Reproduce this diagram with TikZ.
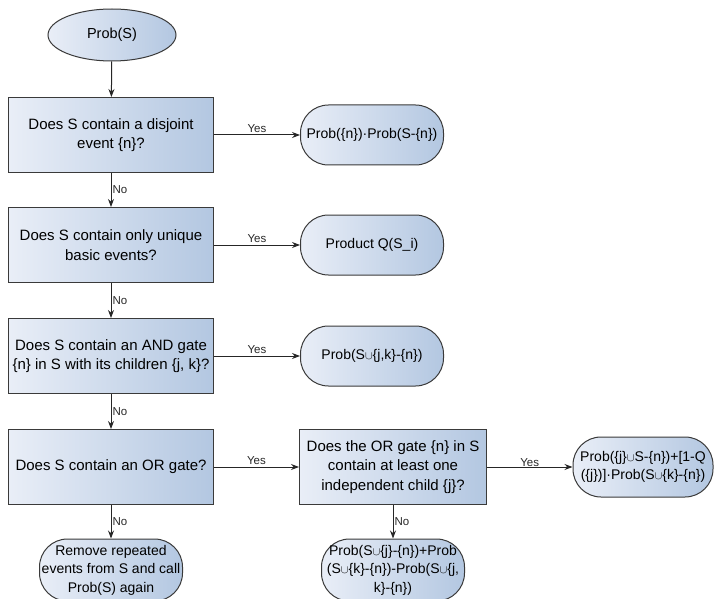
\documentclass[tikz,border=0pt]{standalone}
\usepackage{fontspec}
\setmainfont{Liberation Sans}
\usetikzlibrary{shapes.geometric}
\usetikzlibrary{arrows.meta}
\definecolor{azulclaro}{HTML}{E9EEF7}
\definecolor{azulescuro}{HTML}{B3C7E1}
\definecolor{contorno}{HTML}{3A3A3A}
\tikzset{pergunta/.style={rectangle,draw=contorno,line width=1pt,
                          left color=azulclaro,right color=azulescuro,
                          minimum width=205pt,minimum height=75pt,align=center,
                          font=\fontsize{15}{19.5}\selectfont}}
\tikzset{resposta/.style={rectangle,rounded corners=28pt,draw=contorno,line width=1pt,
                          left color=azulclaro,right color=azulescuro,
                          minimum width=#1,minimum height=60pt,inner sep=0pt,align=center,
                          font=\fontsize{14}{18.5}\selectfont},resposta/.default=143pt}
\newcommand{\uni}{\scalebox{0.8}{$\cup$}}

\begin{document}
\begin{tikzpicture}[x=1pt,y=-1pt,
                    seta/.style={-{Stealth[length=8pt,width=6pt]},line width=1pt,black!85},
                    rotulo/.style={font=\fontsize{11.5}{13}\selectfont,inner sep=2pt}]

		\useasboundingbox (0,0) rectangle (715,599);

		% O ponto de partida
		\node [ellipse,draw=contorno,line width=1pt,left color=azulclaro,right color=azulescuro,
		       minimum width=128pt,minimum height=52pt,font=\fontsize{14.5}{17}\selectfont]
			(prob) at (112,35) {Prob(S)};

		% As perguntas da coluna esquerda
		\node [pergunta] (disjunto) at (111,135) {Does S contain a disjoint\\event \{n\}?};
		\node [pergunta] (unicos)   at (111,245) {Does S contain only unique\\basic events?};
		\node [pergunta] (portae)   at (111,356) {Does S contain an AND gate\\\{n\} in S with its children \{j, k\}?};
		\node [pergunta] (portaou)  at (111,467) {Does S contain an OR gate?};

		% A pergunta sobre o filho independente
		\node [pergunta,minimum width=187pt] (indep) at (393,467)
			{Does the OR gate \{n\} in S\\contain at least one\\independent child \{j\}?};

		% As respostas
		\node [resposta] (r disjunto) at (372,135) {Prob(\{n\})·Prob(S-\{n\})};
		\node [resposta] (r unicos)   at (372,245) {Product Q(S\_i)};
		\node [resposta] (r portae)   at (372,356) {Prob(S\uni\{j,k\}-\{n\})};
		\node [resposta=140pt] (r indep) at (643,467)
			{Prob(\{j\}\uni S-\{n\})+[1-Q\\(\{j\})]·Prob(S\uni\{k\}-\{n\})};
		\node [resposta,minimum height=62pt] (r repetidos) at (111,570)
			{Remove repeated\\events from S and call\\Prob(S) again};
		\node [resposta,minimum height=62pt] (r dependente) at (393,570)
			{Prob(S\uni\{j\}-\{n\})+Prob\\(S\uni\{k\}-\{n\})-Prob(S\uni\{j,\\k\}-\{n\})};

		% Flechas para baixo (No)
		\draw [seta] (prob) -- (disjunto);
		\draw [seta] (disjunto) -- node [rotulo,right,inner sep=1pt] {No} (unicos);
		\draw [seta] (unicos)   -- node [rotulo,right,inner sep=1pt] {No} (portae);
		\draw [seta] (portae)   -- node [rotulo,right,inner sep=1pt] {No} (portaou);
		\draw [seta] (portaou)  -- node [rotulo,right,inner sep=1pt] {No} (r repetidos);
		\draw [seta] (indep)    -- node [rotulo,right,inner sep=1pt] {No} (r dependente);

		% Flechas para a direita (Yes)
		\draw [seta] (disjunto) -- node [rotulo,above] {Yes} (r disjunto);
		\draw [seta] (unicos)   -- node [rotulo,above] {Yes} (r unicos);
		\draw [seta] (portae)   -- node [rotulo,above] {Yes} (r portae);
		\draw [seta] (portaou)  -- node [rotulo,above] {Yes} (indep);
		\draw [seta] (indep)    -- node [rotulo,above,inner sep=0pt] {Yes} (r indep);

	\end{tikzpicture}
\end{document}
